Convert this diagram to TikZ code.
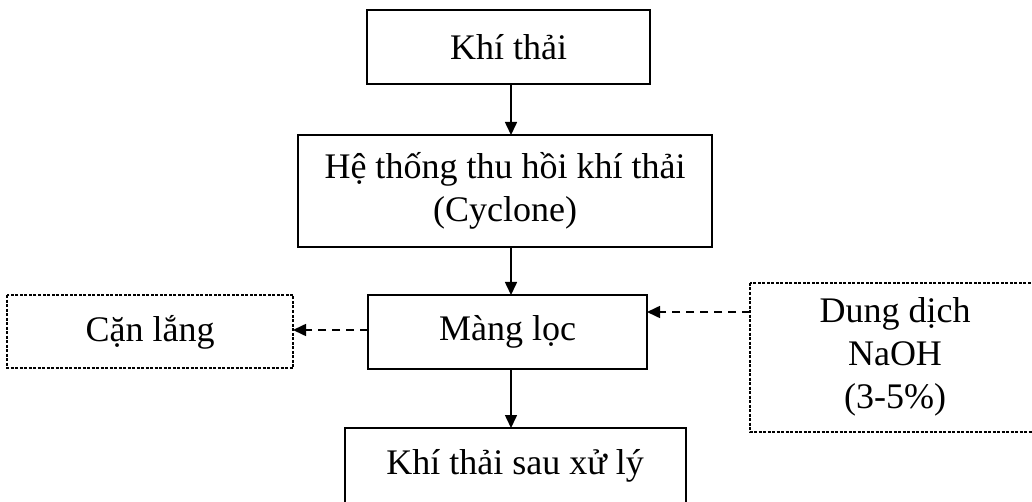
\documentclass[tikz,border=0pt]{standalone}
\usepackage{fontspec}
\setmainfont{Liberation Serif}
\usetikzlibrary{arrows.meta}
\begin{document}
\begin{tikzpicture}[x=1pt,y=-1pt,
  txt/.style={font=\fontsize{36}{43}\selectfont, align=center, inner sep=0pt},
  solidbox/.style={draw, line width=1.6pt},
  dashbox/.style={draw, line width=1.3pt, dash pattern=on 3pt off 1.5pt},
  flow/.style={line width=1.6pt, -{Triangle[length=13pt,width=12pt]}},
  dflow/.style={line width=1.6pt, dash pattern=on 8pt off 6pt, -{Triangle[length=13pt,width=12pt]}}]
\useasboundingbox (0,0) rectangle (1032,502);
\clip (0,0) rectangle (1032,502);
% boxes
\draw[solidbox] (367,10) rectangle (650,84);
\node[txt] (b1) at (508.5,47) {Khí thải};
\draw[solidbox] (298,135) rectangle (712,247);
\node[txt] (b2) at (505,191) {Hệ thống thu hồi khí thải\\(Cyclone)};
\draw[solidbox] (368,295) rectangle (647,369);
\node[txt] (b3) at (507.5,332) {Màng lọc};
\draw[solidbox] (345,428) rectangle (686,520);
\node[txt] (b4) at (515,466) {Khí thải sau xử lý};
\draw[dashbox] (7,295) rectangle (293,368);
\node[txt] (cl) at (150,332) {Cặn lắng};
\draw[dashbox] (750,283) rectangle (1045,432);
\node[txt] (na) at (895,357) {Dung dịch\\NaOH\\(3-5\%)};
% anchor coordinates on box edges
\coordinate (b1s) at (511,84);
\coordinate (b2n) at (511,135);
\coordinate (b2s) at (511,247);
\coordinate (b3n) at (511,295);
\coordinate (b3s) at (511,369);
\coordinate (b4n) at (511,428);
\coordinate (b3w) at (368,330);
\coordinate (clE) at (293,330);
\coordinate (b3e) at (647,312);
\coordinate (naW) at (750,312);
% connectors
\draw[flow] (b1s) -- (b2n);
\draw[flow] (b2s) -- (b3n);
\draw[flow] (b3s) -- (b4n);
\draw[dflow] (b3w) -- (clE);
\draw[dflow] (naW) -- (b3e);
\end{tikzpicture}
\end{document}
